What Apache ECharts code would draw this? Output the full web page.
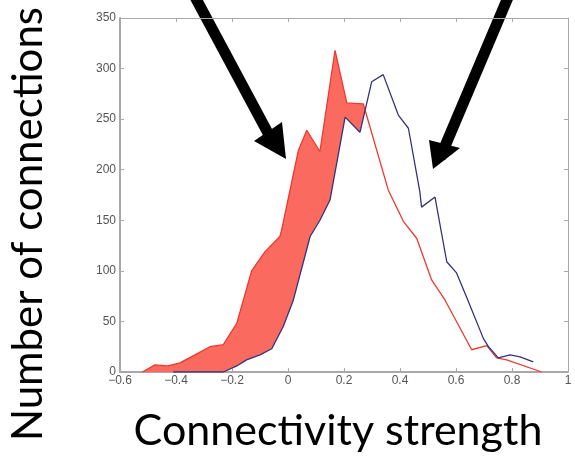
<!DOCTYPE html>
<html>
<head>
<meta charset="utf-8">
<script src="https://cdn.jsdelivr.net/npm/echarts@6/dist/echarts.min.js"></script>
<style>
  html, body { margin: 0; padding: 0; background: #fff; }
  #main { width: 575px; height: 467px; }
</style>
</head>
<body>
<div id="main"></div>
<script>
// histogram outlines: [strength, count]
var redLine = [
    [-0.52, 0], [-0.475, 7], [-0.43, 6], [-0.386, 9], [-0.332, 17], [-0.279, 25],
    [-0.231, 27], [-0.183, 48], [-0.13, 100], [-0.082, 119], [-0.029, 134],
    [-0.023, 140], [0.037, 219], [0.067, 239], [0.114, 218], [0.168, 318],
    [0.21, 266], [0.269, 265], [0.358, 180], [0.412, 149], [0.46, 132],
    [0.513, 91], [0.561, 71], [0.656, 22], [0.71, 26], [0.745, 14],
    [0.781, 12], [0.906, 0]
];
var blueLine = [
    [-0.41, 0], [-0.231, 0], [-0.183, 6], [-0.148, 12], [-0.1, 17], [-0.058, 23],
    [-0.017, 45], [0.019, 71], [0.079, 134], [0.114, 150], [0.15, 170],
    [0.204, 252], [0.257, 237], [0.299, 287], [0.34, 294], [0.394, 254],
    [0.43, 241], [0.471, 178], [0.477, 163], [0.525, 173], [0.567, 109],
    [0.602, 98], [0.638, 74], [0.698, 33], [0.716, 25], [0.751, 14],
    [0.793, 17], [0.829, 15], [0.876, 10]
];
var xTicks = { min: -0.6, max: 1, step: 0.2 };
var yTicks = { min: 0, max: 350, step: 50 };

// where the red curve drops under the blue one after the red peak
function crossing(a, b) {
    for (var i = 0; i < a.length - 1; i++) {
        for (var j = 0; j < b.length - 1; j++) {
            var p = a[i], p2 = a[i + 1], q = b[j], q2 = b[j + 1];
            var d = (p2[0] - p[0]) * (q2[1] - q[1]) - (p2[1] - p[1]) * (q2[0] - q[0]);
            if (d === 0) continue;
            var t = ((q[0] - p[0]) * (q2[1] - q[1]) - (q[1] - p[1]) * (q2[0] - q[0])) / d;
            var u = ((q[0] - p[0]) * (p2[1] - p[1]) - (q[1] - p[1]) * (p2[0] - p[0])) / d;
            if (t > 0 && t <= 1 && u >= 0 && u <= 1 && p[0] > 0.2) {
                return [p[0] + t * (p2[0] - p[0]), p[1] + t * (p2[1] - p[1])];
            }
        }
    }
    return null;
}

var cross = crossing(redLine, blueLine);
var fillPoly = redLine.filter(function(p) { return p[0] < cross[0]; });
fillPoly.push(cross);
fillPoly = fillPoly.concat(blueLine.filter(function(p) { return p[0] < cross[0]; }).reverse());

function extend(a, b) {
    var o = {};
    for (var k in a) o[k] = a[k];
    for (k in b) o[k] = b[k];
    return o;
}

var axisGray = '#a8a8a8';
var labelStyle = { color: '#555', fontFamily: 'Liberation Sans', fontSize: 12 };
var tick = { inside: true, length: 4, lineStyle: { color: axisGray } };

var chart = echarts.init(document.getElementById('main'));

chart.setOption({
    backgroundColor: '#fff',
    animation: false,
    grid: { left: 120, right: 7, top: 18, bottom: 95 },
    xAxis: [{
        type: 'value', min: xTicks.min, max: xTicks.max, interval: xTicks.step,
        axisLine: { show: true, onZero: false, lineStyle: { color: axisGray, width: 2 } },
        axisTick: tick,
        axisLabel: extend(labelStyle, {
            margin: 3,
            formatter: function(v) {
                var s = String(+v.toFixed(1));
                return s.replace('-', '\u2212');
            }
        }),
        splitLine: { show: false }
    }, {
        type: 'value', position: 'top', min: xTicks.min, max: xTicks.max, interval: xTicks.step,
        axisLine: { show: true, onZero: false, lineStyle: { color: axisGray, width: 1 } },
        axisTick: tick,
        axisLabel: { show: false },
        splitLine: { show: false }
    }],
    yAxis: [{
        type: 'value', min: yTicks.min, max: yTicks.max, interval: yTicks.step,
        axisLine: { show: true, onZero: false, lineStyle: { color: axisGray, width: 2 } },
        axisTick: tick,
        axisLabel: extend(labelStyle, { margin: 4 }),
        splitLine: { show: false }
    }, {
        type: 'value', position: 'right', min: yTicks.min, max: yTicks.max, interval: yTicks.step,
        axisLine: { show: true, onZero: false, lineStyle: { color: axisGray, width: 1 } },
        axisTick: tick,
        axisLabel: { show: false },
        splitLine: { show: false }
    }],
    graphic: [
        {
            type: 'text', x: 338, y: 431,
            style: { text: 'Connectivity strength', fill: '#000', font: '43px Lato', align: 'center', verticalAlign: 'middle' }
        },
        {
            type: 'text', x: 28, y: 224, rotation: Math.PI / 2,
            style: { text: 'Number of connections', fill: '#000', font: '42px Lato', align: 'center', verticalAlign: 'middle' }
        },
        // left arrow
        { type: 'polyline', shape: { points: [[194, -5], [276, 148]] }, style: { stroke: '#000', lineWidth: 11 } },
        { type: 'polygon', shape: { points: [[254, 141], [286, 159], [282, 122]] }, style: { fill: '#000' } },
        // right arrow
        { type: 'polyline', shape: { points: [[509, -5], [440, 158]] }, style: { stroke: '#000', lineWidth: 11 } },
        { type: 'polygon', shape: { points: [[429, 140], [433, 169], [460, 148]] }, style: { fill: '#000' } }
    ],
    series: [
        {
            type: 'custom',
            coordinateSystem: 'cartesian2d',
            data: [0],
            silent: true,
            z: 1,
            renderItem: function(params, api) {
                return {
                    type: 'polygon',
                    shape: { points: fillPoly.map(function(p) { return api.coord(p); }) },
                    style: { fill: '#fb6a5e', stroke: null }
                };
            }
        },
        {
            type: 'line', data: redLine, symbol: 'none', z: 3,
            lineStyle: { color: '#ee3a2e', width: 1.3 }
        },
        {
            type: 'line', data: blueLine, symbol: 'none', z: 4,
            lineStyle: { color: '#34337e', width: 1.3 }
        }
    ]
});
</script>
</body>
</html>
